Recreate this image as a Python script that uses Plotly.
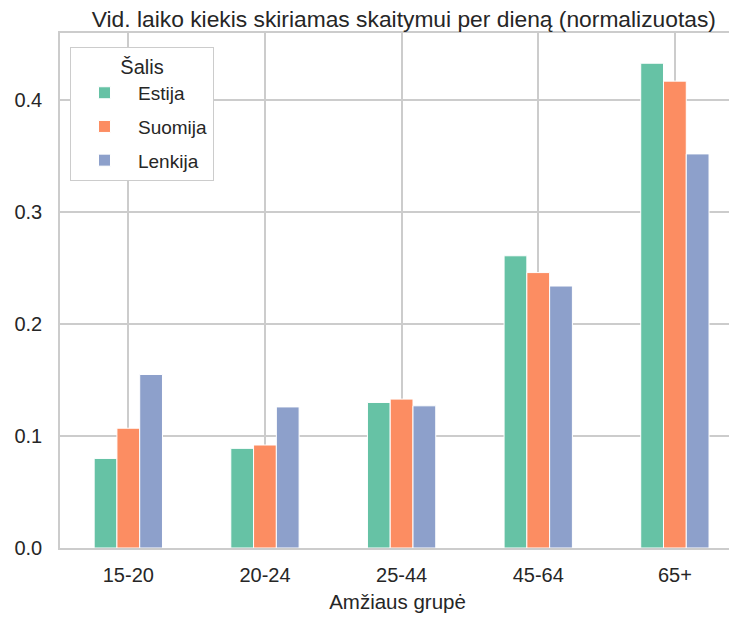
import plotly.graph_objects as go

categories = ["15-20", "20-24", "25-44", "45-64", "65+"]
estija = [0.080, 0.089, 0.130, 0.261, 0.433]
suomija = [0.107, 0.092, 0.133, 0.246, 0.417]
lenkija = [0.155, 0.126, 0.127, 0.234, 0.352]

series = [("Estija", estija, "#66c2a5"),
          ("Suomija", suomija, "#fc8d62"),
          ("Lenkija", lenkija, "#8da0cb")]

fig = go.Figure()
for name, vals, col in series:
    fig.add_trace(go.Bar(x=categories, y=vals, name=name, legendgroup=name,
                         marker=dict(color=col, line=dict(color="white", width=1))))

fig.update_layout(
    width=729, height=611,
    barmode="group", bargap=0.5, bargroupgap=0,
    font=dict(family="Liberation Sans, Arial, sans-serif", size=20, color="#262626"),
    title=dict(text="Vid. laiko kiekis skiriamas skaitymui per dieną (normalizuotas)",
               x=0.543, xanchor="center", y=0.982, yanchor="middle",
               font=dict(size=22.8, color="#262626")),
    plot_bgcolor="white", paper_bgcolor="white",
    margin=dict(l=52, r=0, t=25, b=71),
    legend=dict(x=0.0148, y=0.973, xanchor="left", yanchor="top",
                bgcolor="white", bordercolor="#cccccc", borderwidth=1,
                title=dict(text="Šalis", side="top center", font=dict(size=20)),
                font=dict(size=19), itemwidth=57, tracegroupgap=6),
    xaxis=dict(title=dict(text="Amžiaus grupė", font=dict(size=20.5), standoff=10),
               range=[-0.5, 4.44], showgrid=True, gridcolor="#cccccc", gridwidth=1.5,
               showline=True, linecolor="#cccccc", linewidth=1.5, mirror=True,
               ticks="", tickfont=dict(size=20), ticklabelstandoff=8),
    yaxis=dict(range=[0, 0.46], tickvals=[0, 0.1, 0.2, 0.3, 0.4],
               ticktext=["0.0", "0.1", "0.2", "0.3", "0.4"],
               showgrid=True, gridcolor="#cccccc", gridwidth=1.5, zeroline=False,
               showline=True, linecolor="#cccccc", linewidth=1.5, mirror=True,
               ticks="", tickfont=dict(size=20), ticklabelstandoff=12),
)

fig.write_html("out.html")
